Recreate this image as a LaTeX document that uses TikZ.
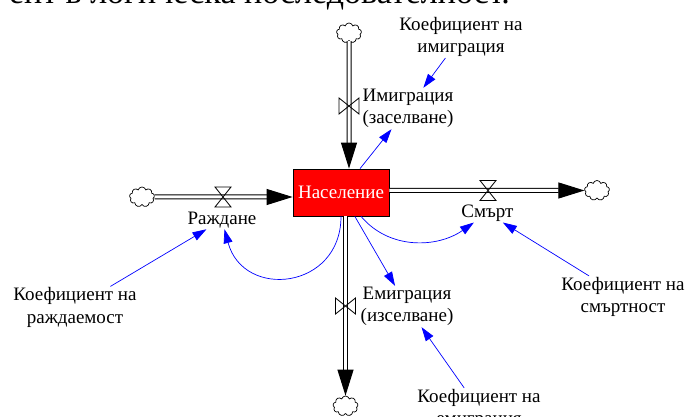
\documentclass[tikz,border=0pt]{standalone}
\usepackage{fontspec}
\setmainfont{Liberation Serif}
\usetikzlibrary{arrows.meta,shapes.symbols}
\tikzset{
  pipe/.style={draw=black, line width=1pt, double=white, double distance=3pt, -{Triangle[length=26pt,width=16pt]}},
  link/.style={draw=blue, line width=0.7pt, -{Triangle[length=14pt,width=9pt]}},
  cloudy/.style={shape=cloud, cloud puffs=9, aspect=1.25, draw=black, fill=white, line width=0.7pt, inner sep=0pt, minimum width=25pt, minimum height=20pt},
  lbl/.style={align=center, inner sep=1pt, font=\fontsize{19}{22.5}\selectfont},
  valve/.pic={\draw[line width=0.8pt] (-8,10) -- (8,10) -- (-8,-10) -- (8,-10) -- cycle;}
}
\begin{document}
\begin{tikzpicture}[x=1pt, y=1pt]
\useasboundingbox (0,0) rectangle (688,417);
\clip (0,0) rectangle (688,417);
\node[anchor=base east, inner sep=0pt, font=\fontsize{34}{40}\selectfont] (prev) at (510,413) {ент в логическа последователност.};
\node[draw=black, fill=red, line width=0.8pt, minimum width=96pt, minimum height=47pt, inner sep=0pt, text=white, font=\fontsize{19}{22}\selectfont] (pop) at (341,224.5) {Население};
\node[cloudy] (cL) at (142,220) {};
\node[cloudy] (cR) at (597,226.5) {};
\node[cloudy] (cT) at (349,384) {};
\node[cloudy] (cB) at (345.5,11) {};
\draw[pipe] (cL) -- (pop.west |- cL);
\draw[pipe] (pop.east |- cR) -- (cR);
\draw[pipe] (cT) -- (cT |- pop.north);
\draw[pipe] (cB |- pop.south) -- (cB);
\pic (vL) at (223,220) {valve};
\pic (vR) at (488,226.5) {valve};
\pic[rotate=90] (vT) at (349,311) {valve};
\pic[rotate=90] (vB) at (345.5,111) {valve};
\node[lbl] (birth) at (222,197) {Раждане};
\node[lbl] (death) at (487.5,204) {Смърт};
\node[lbl] (imm) at (408,308.5) {Имиграция\\(заселване)};
\node[lbl] (emig) at (407,110.5) {Емиграция\\(изселване)};
\node[lbl] (kImm) at (461,380) {Коефициент на\\имиграция};
\node[lbl] (kBirth) at (75,109.5) {Коефициент на\\раждаемост};
\node[lbl] (kDeath) at (623,120) {Коефициент на\\смъртност};
\node[lbl] (kEmig) at (479,8) {Коефициент на\\емиграция};
\draw[link] (kImm) -- (imm);
\draw[link] (kBirth) -- (birth);
\draw[link] (kDeath) -- (death);
\draw[link] (kEmig) -- (emig);
\draw[link] (pop) -- (imm);
\draw[link] (pop) -- (emig);
\draw[link] (pop) to[out=-50, in=215] (death);
\draw[link] (pop) to[out=-90, in=-75, looseness=1.6] (birth);
\end{tikzpicture}
\end{document}
